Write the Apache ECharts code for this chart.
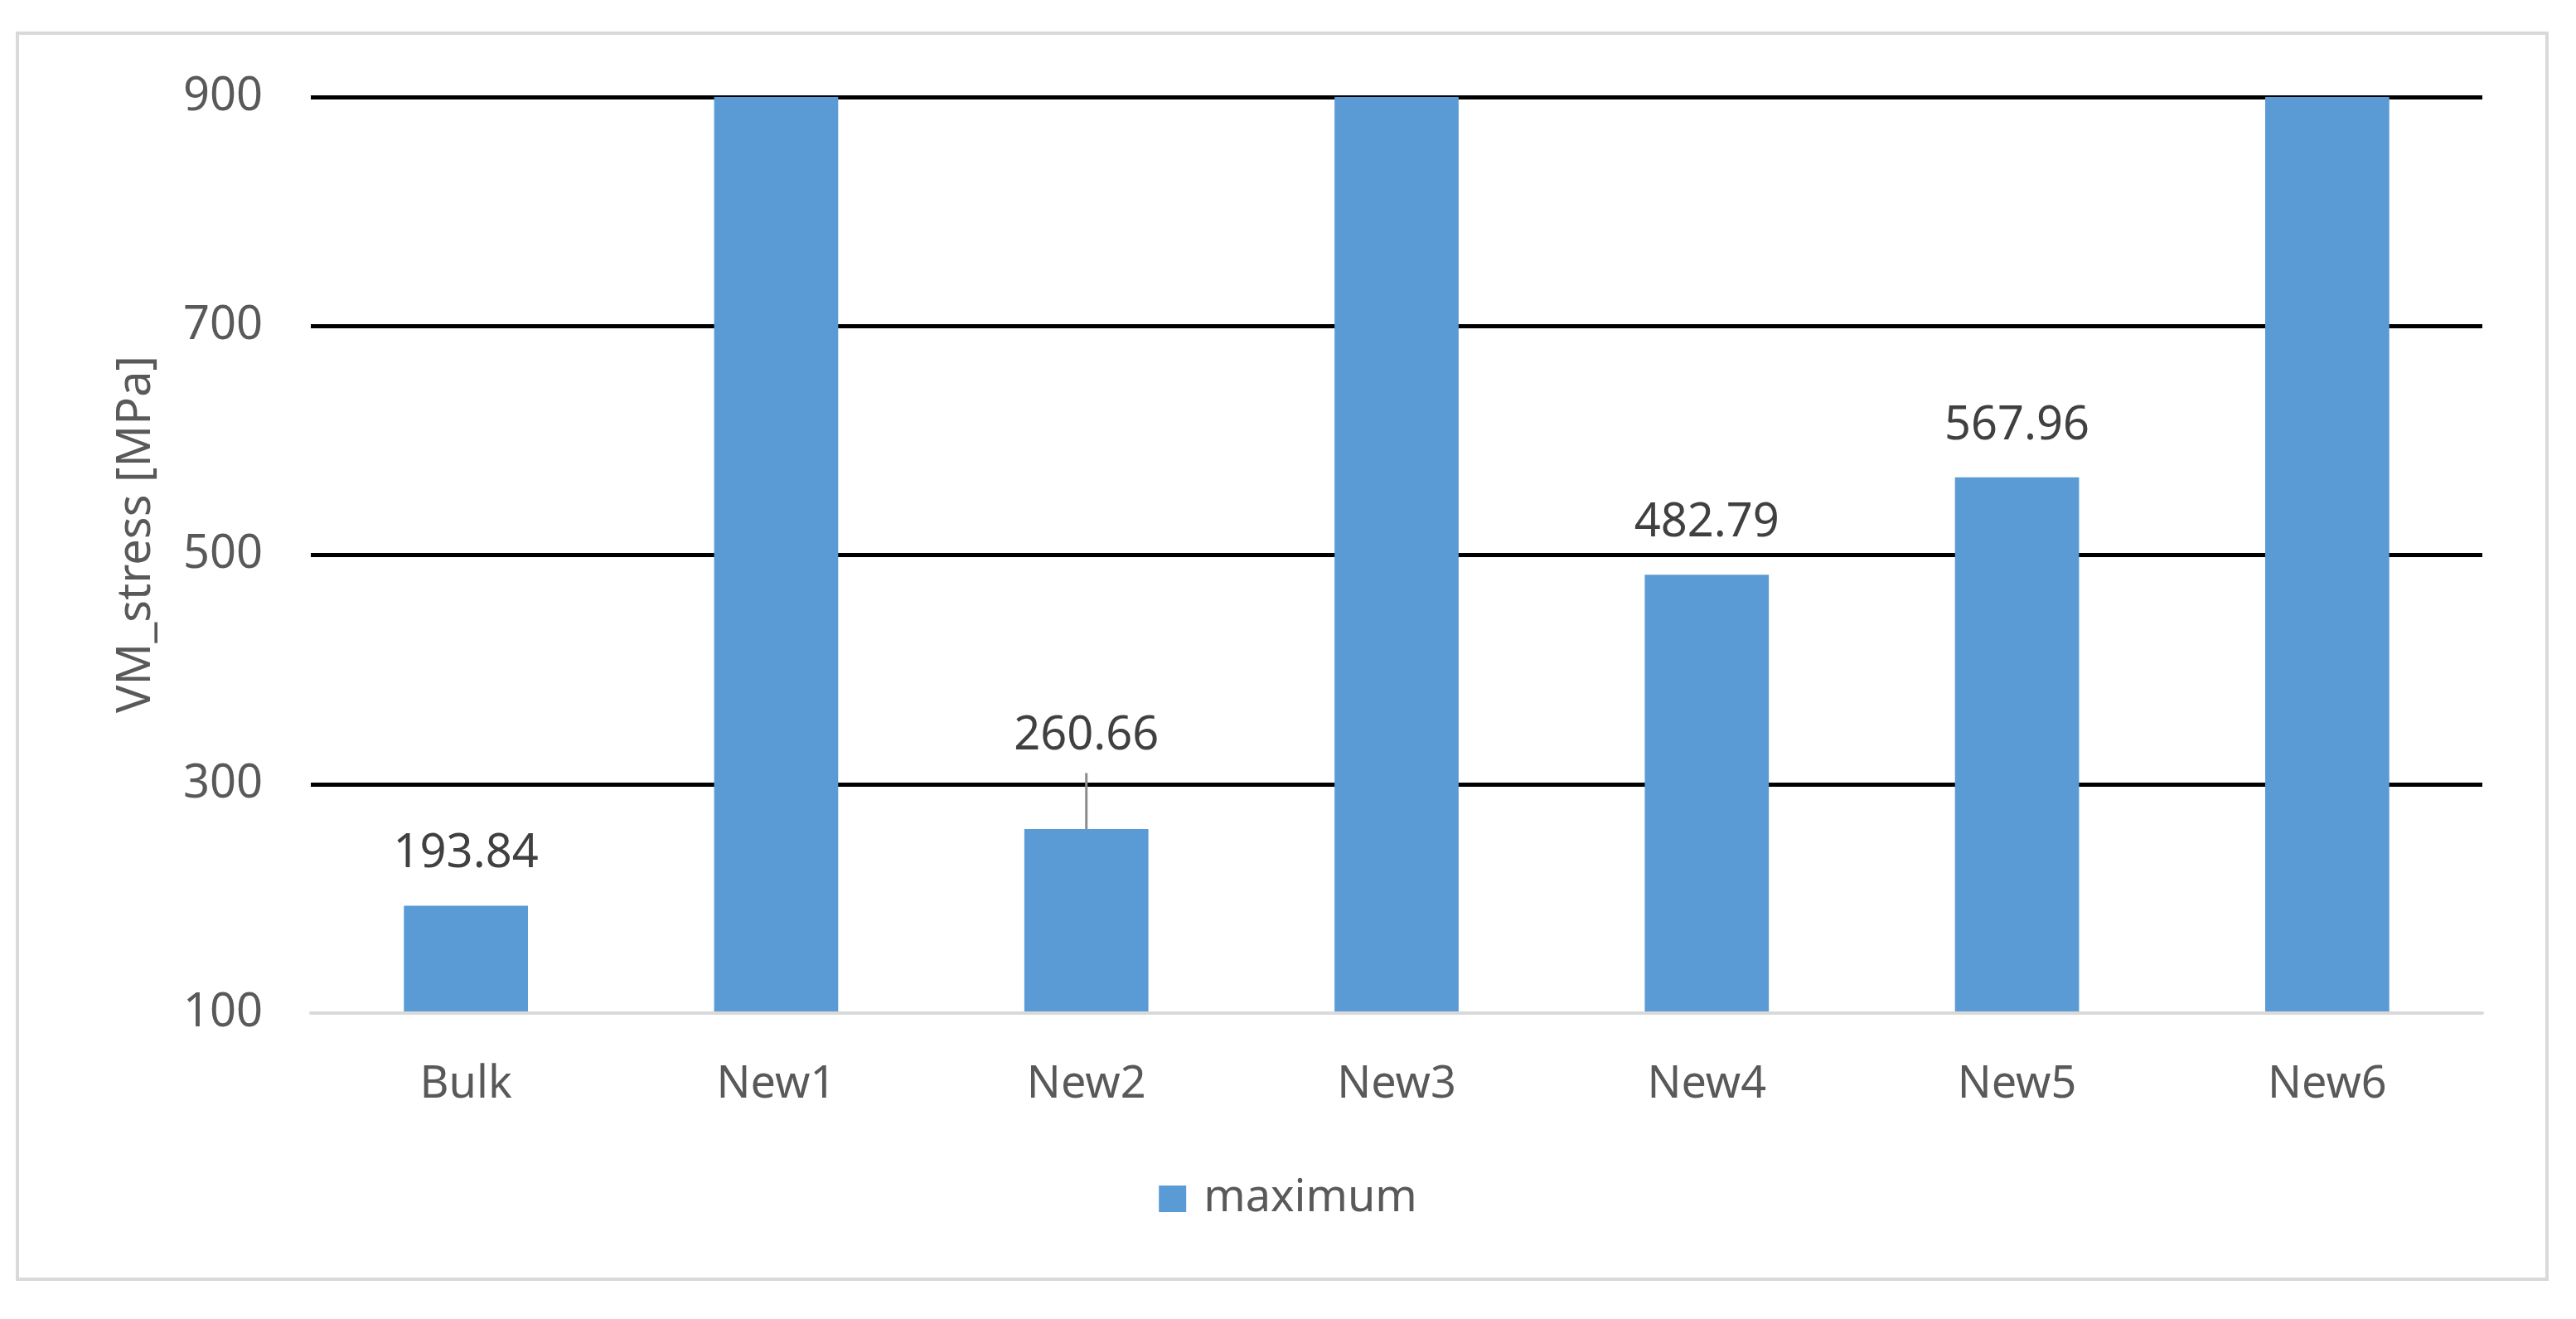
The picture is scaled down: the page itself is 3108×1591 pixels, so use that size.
<!DOCTYPE html>
<html>
<head>
<meta charset="utf-8">
<script src="https://cdn.jsdelivr.net/npm/echarts@6/dist/echarts.min.js"></script>
<style>
  html, body { margin: 0; padding: 0; background: #ffffff; }
  #chart { width: 3108px; height: 1591px; }
</style>
</head>
<body>
<div id="chart"></div>
<script>
// ---- data ----
const categories = ['Bulk', 'New1', 'New2', 'New3', 'New4', 'New5', 'New6'];
const maximum = [193.84, 900, 260.66, 900, 482.79, 567.96, 900];
// upper error bar length (only New2 shows one)
const errorPlus = [null, null, 49, null, null, null, null];
const yTicks = [100, 300, 500, 700, 900];
const seriesName = 'maximum';
const yTitle = 'VM_stress [MPa]';

const FONT = 'Noto Sans';
const FS = 54;
const LABEL_DIST = 34;

const chart = echarts.init(document.getElementById('chart'), null, { renderer: 'canvas' });

const errData = [];
errorPlus.forEach((e, i) => { if (e != null) errData.push([i, maximum[i], e]); });

const option = {
  backgroundColor: '#ffffff',
  animation: false,
  textStyle: { fontFamily: FONT },
  graphic: [{
    type: 'rect',
    shape: { x: 21, y: 40, width: 3052, height: 1503 },
    style: { fill: 'none', stroke: '#d9d9d9', lineWidth: 4 },
    silent: true,
    z: -10
  }],
  grid: { left: 375, right: 113, top: 117, bottom: 369, containLabel: false },
  legend: {
    data: [seriesName],
    left: 'center',
    top: 1414,
    icon: 'rect',
    itemWidth: 33,
    itemHeight: 32,
    itemGap: 20,
    textStyle: { fontSize: FS, color: '#595959', fontFamily: FONT, padding: [0, 0, 0, 16] }
  },
  xAxis: {
    type: 'category',
    data: categories,
    axisLine: { show: true, lineStyle: { color: '#d9d9d9', width: 4 } },
    axisTick: { show: false },
    axisLabel: { color: '#595959', fontSize: FS, fontFamily: FONT, margin: 60 },
    splitLine: { show: false },
    z: 5
  },
  yAxis: {
    type: 'value',
    min: yTicks[0],
    max: yTicks[yTicks.length - 1],
    interval: yTicks[1] - yTicks[0],
    name: yTitle,
    nameLocation: 'middle',
    nameRotate: 90,
    nameGap: 182,
    nameTextStyle: { color: '#595959', fontSize: FS + 2, fontFamily: FONT, padding: [0, 0, 0, 50] },
    axisLine: { show: false },
    axisTick: { show: false },
    axisLabel: { color: '#595959', fontSize: FS + 2, fontFamily: FONT, margin: 58 },
    splitLine: { show: true, showMinLine: false, lineStyle: { color: '#000000', width: 5 } }
  },
  series: [
    {
      name: seriesName,
      type: 'bar',
      data: maximum.map((v, i) => ({
        value: v,
        label: { show: v < yTicks[yTicks.length - 1] && errorPlus[i] == null }
      })),
      barWidth: '40%',
      itemStyle: { color: '#5b9bd5' },
      label: {
        position: 'top',
        distance: LABEL_DIST,
        color: '#404040',
        fontSize: FS + 2,
        fontFamily: FONT,
        formatter: p => p.value.toFixed(2)
      },
      z: 3
    },
    {
      name: 'error',
      type: 'custom',
      coordinateSystem: 'cartesian2d',
      data: errData,
      encode: { x: 0, y: 1 },
      z: 4,
      silent: true,
      renderItem: function (params, api) {
        const idx = api.value(0);
        const v = api.value(1);
        const e = api.value(2);
        const p0 = api.coord([idx, v]);
        const p1 = api.coord([idx, v + e]);
        return {
          type: 'group',
          children: [
            {
              type: 'line',
              shape: { x1: p0[0], y1: p0[1], x2: p1[0], y2: p1[1] },
              style: { stroke: '#8c8c8c', lineWidth: 3 }
            },
            {
              type: 'text',
              style: {
                text: v.toFixed(2),
                x: p1[0],
                y: p1[1] - LABEL_DIST + 18,
                align: 'center',
                verticalAlign: 'bottom',
                fill: '#404040',
                fontSize: FS + 2,
                fontFamily: FONT
              }
            }
          ]
        };
      }
    }
  ]
};

chart.setOption(option);
</script>
</body>
</html>
